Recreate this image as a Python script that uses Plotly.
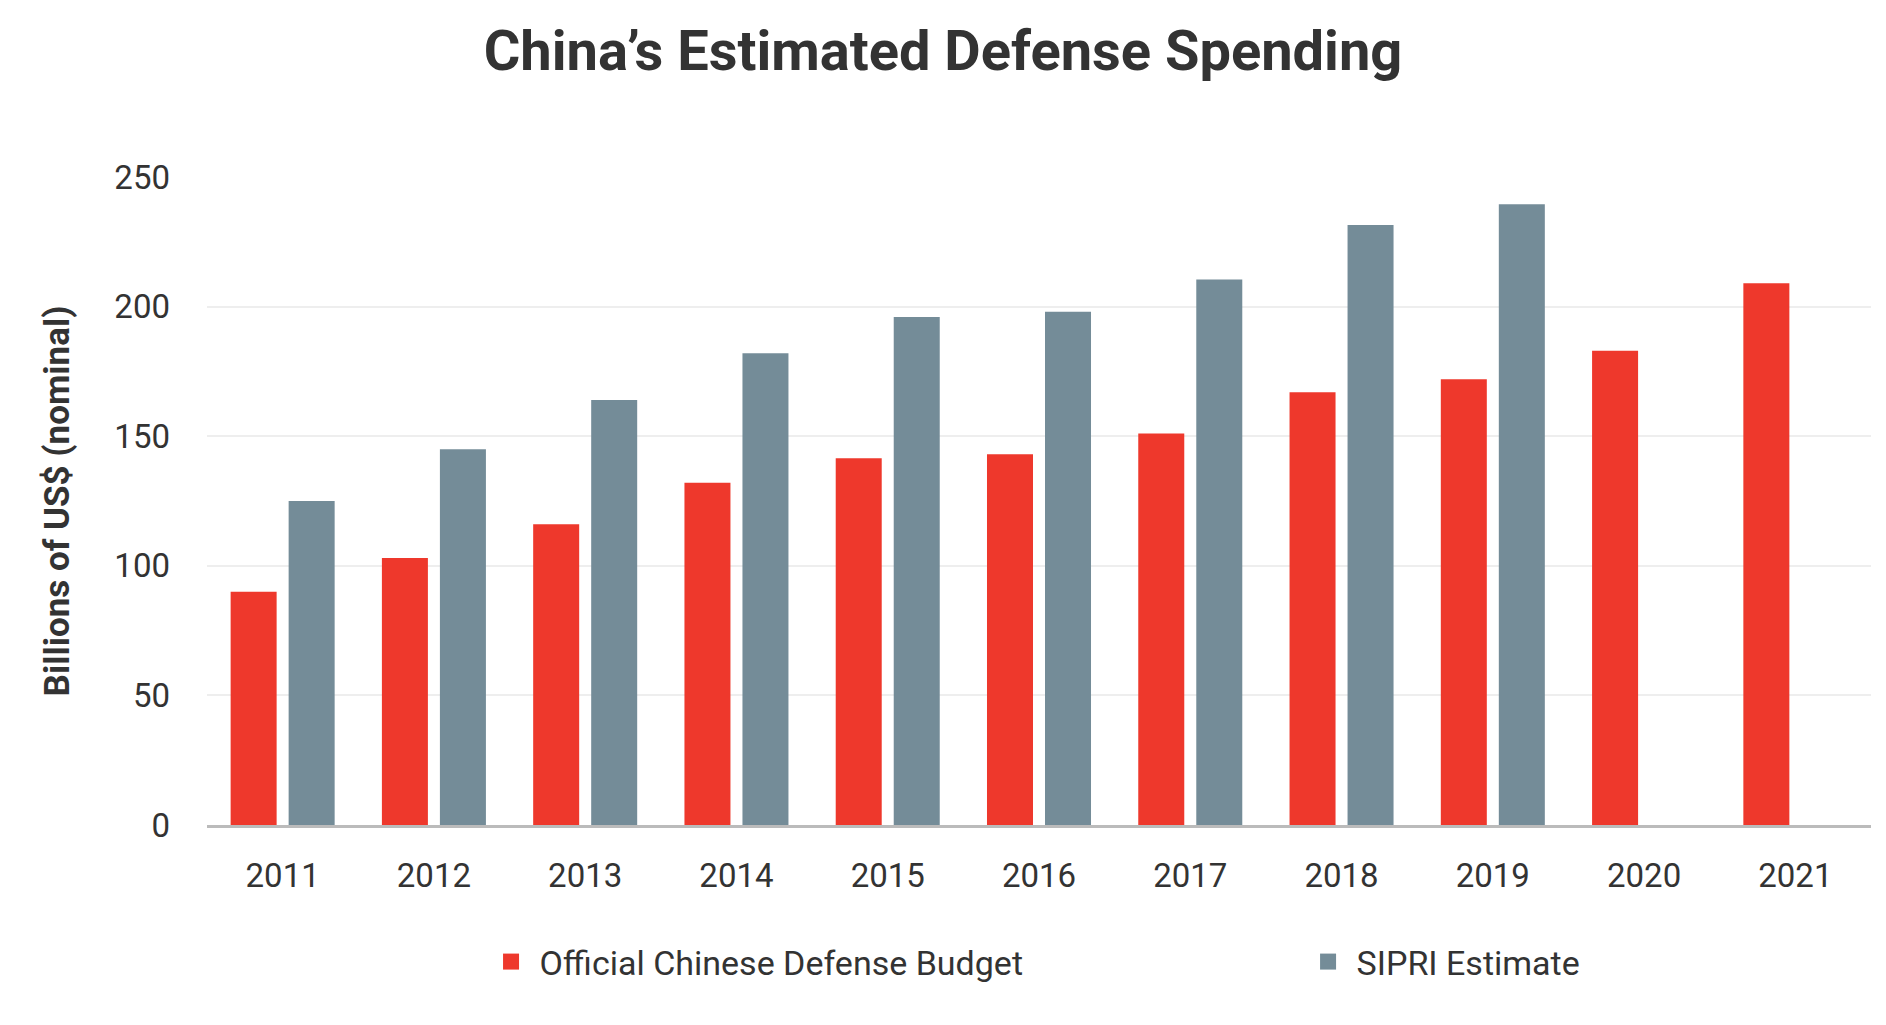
import plotly.graph_objects as go

years = ["2011", "2012", "2013", "2014", "2015", "2016", "2017", "2018", "2019", "2020", "2021"]
official_budget = [90, 103, 116, 132, 141.5, 143, 151, 167, 172, 183, 209]
sipri_estimate = [125, 145, 164, 182, 196, 198, 210.5, 231.5, 239.5, None, None]

y_ticks = [0, 50, 100, 150, 200, 250]

RED = "#EE382C"
GREY = "#748C98"
TEXT = "#333333"

fig = go.Figure()
fig.add_trace(go.Bar(x=years, y=official_budget, name="Official Chinese Defense Budget",
                     marker=dict(color=RED, line=dict(width=0)), showlegend=False))
fig.add_trace(go.Bar(x=years, y=sipri_estimate, name="SIPRI Estimate",
                     marker=dict(color=GREY, line=dict(width=0)), showlegend=False))

# legend-only entries so the swatches come out as bigger squares
for name, color, leg in [("Official Chinese Defense Budget", RED, "legend"),
                         ("SIPRI Estimate", GREY, "legend2")]:
    fig.add_trace(go.Scatter(x=[None], y=[None], mode="markers", name="\u00a0" + name,
                             marker=dict(symbol="square", size=18, color=color),
                             legend=leg, showlegend=True))

legend_style = dict(orientation="h", xanchor="left", y=-0.2114, yanchor="middle",
                    font=dict(size=34, color=TEXT), bgcolor="rgba(0,0,0,0)")

fig.update_layout(
    width=1886, height=1025,
    margin=dict(l=207, r=15, t=177, b=200),
    paper_bgcolor="white", plot_bgcolor="white",
    font=dict(family="Roboto", color=TEXT, size=34),
    title=dict(text="<b>China’s Estimated Defense Spending</b>", x=0.5, xref="container",
               y=1 - 50 / 1025, yref="container", yanchor="middle",
               font=dict(family="Roboto", size=56, color=TEXT)),
    barmode="group", bargap=0.233, bargroupgap=0.207,
    legend=dict(x=0.1707, **legend_style),
    legend2=dict(x=0.6617, **legend_style),
)
fig.update_xaxes(showgrid=False, showline=True, linecolor="#BBBBBB", linewidth=2.5,
                 ticks="", ticklabelstandoff=20, tickfont=dict(size=33, color=TEXT))
fig.update_yaxes(range=[0, 250], tickvals=y_ticks, showgrid=True, gridcolor="#EEEEEE",
                 gridwidth=2, zeroline=False, showline=False, ticks="",
                 ticklabelstandoff=36, tickfont=dict(size=33, color=TEXT),
                 title=dict(text="<b>Billions of US$ (nominal)</b>", standoff=34,
                            font=dict(family="Roboto", size=35, color=TEXT)))

fig.write_html("out.html", config={"displayModeBar": False},
               post_script="document.body.style.margin='0';")
